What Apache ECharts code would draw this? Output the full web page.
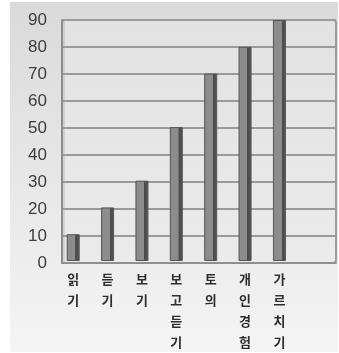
<!DOCTYPE html>
<html><head><meta charset="utf-8">
<script src="https://cdn.jsdelivr.net/npm/echarts@6/dist/echarts.min.js"></script>
<style>html,body{margin:0;padding:0;background:#fff}#c{width:339px;height:353px}</style>
</head><body><div id="c"></div>
<script>
var categories = ['읽기','듣기','보기','보고듣기','토의','개인경험','가르치기'];
var values = [10,20,30,50,70,80,90];
var yTicks = [0,10,20,30,40,50,60,70,80,90];

var chart = echarts.init(document.getElementById('c'));
var cats8 = categories.concat(['']);
var vals8 = values.concat(['-']);
chart.setOption({
  animation:false,
  graphic:[
    {type:'rect',z:-10,shape:{x:10,y:2,width:328,height:350},
     style:{fill:new echarts.graphic.LinearGradient(0,0,0,1,[{offset:0,color:'#dadada'},{offset:1,color:'#f4f4f4'}])}},
    {type:'rect',z:-9,shape:{x:62,y:20,width:274,height:243,r:[3,3,3,0]},
     style:{fill:new echarts.graphic.LinearGradient(0,0,0,1,[{offset:0,color:'#e2e2e2'},{offset:1,color:'#ebebeb'}]),stroke:'#9c9c9c',lineWidth:2}},
    {type:'line',z:-8,shape:{x1:64,y1:22,x2:64,y2:262},style:{stroke:'#bdbdbd',lineWidth:1}}
  ],
  grid:[
    {left:56,right:8,top:20,bottom:90},
    {left:62,right:3,top:20,bottom:90}
  ],
  xAxis:[
    {type:'category',gridIndex:0,data:cats8,boundaryGap:true,
     axisLine:{show:false},axisTick:{show:false},
     axisLabel:{interval:0,margin:8,color:'#2e2e2e',fontSize:13,fontWeight:'bold',lineHeight:21,
       fontFamily:'Noto Sans CJK KR',verticalAlign:'top',
       formatter:function(v){return v.split('').join('\n');}}},
    {type:'category',gridIndex:1,data:cats8,
     axisLine:{show:true,lineStyle:{color:'#8f8f8f',width:2}},axisTick:{show:false},axisLabel:{show:false}}
  ],
  yAxis:[
    {type:'value',gridIndex:0,min:yTicks[0],max:yTicks[yTicks.length-1],interval:10,show:false},
    {type:'value',gridIndex:1,min:yTicks[0],max:yTicks[yTicks.length-1],interval:10,
     axisLine:{show:true,lineStyle:{color:'#8c8c8c',width:2}},axisTick:{show:false},
     splitLine:{lineStyle:{color:'#9a9a9a',width:2}},
     axisLabel:{margin:15,color:'#3c3c3c',fontSize:17,fontFamily:'Liberation Sans'}}
  ],
  series:[{
    type:'bar',xAxisIndex:0,yAxisIndex:0,data:vals8,barWidth:13,
    itemStyle:{color:new echarts.graphic.LinearGradient(0,0,1,0,[
      {offset:0,color:'#7d7d7d'},{offset:0.12,color:'#8c8c8c'},{offset:0.66,color:'#8c8c8c'},
      {offset:0.68,color:'#4a4a4a'},{offset:1,color:'#565656'}]),
      borderColor:'#555',borderWidth:1}
  }]
});
</script></body></html>
